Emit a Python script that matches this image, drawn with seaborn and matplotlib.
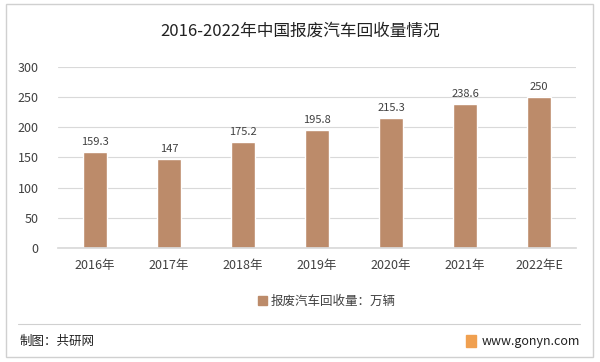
import numpy as np
import pandas as pd
import seaborn as sns
import matplotlib.pyplot as plt
from matplotlib.patches import Rectangle
from matplotlib.lines import Line2D

# data
years = ["2016年", "2017年", "2018年", "2019年", "2020年", "2021年", "2022年E"]
volume = [159.3, 147, 175.2, 195.8, 215.3, 238.6, 250]
value_labels = ["159.3", "147", "175.2", "195.8", "215.3", "238.6", "250"]
y_ticks = [0, 50, 100, 150, 200, 250, 300]

bar_color = "#BC8B6A"
text_color = "#404040"

sns.set_theme(style="white")
plt.rcParams['font.family'] = ['Noto Sans CJK SC', 'DejaVu Sans']

df = pd.DataFrame({"year": years, "volume": volume})

fig = plt.figure(figsize=(6, 3.62), dpi=100)
ax = fig.add_axes([0.097, 0.315, 0.863, 0.5])

sns.barplot(data=df, x="year", y="volume", color=bar_color, width=0.32,
            saturation=1, ax=ax)

for i, (v, lab) in enumerate(zip(volume, value_labels)):
    ax.text(i, v + 8, lab, ha="center", va="bottom", fontsize=8, color=text_color)

ax.set_ylim(0, 300)
ax.set_yticks(y_ticks)
ax.yaxis.grid(True, color="#D9D9D9", linewidth=0.8)
ax.set_axisbelow(True)
for s in ["top", "right", "left"]:
    ax.spines[s].set_visible(False)
ax.spines["bottom"].set_color("#D9D9D9")
ax.tick_params(axis="both", length=0, labelsize=9, colors=text_color)
ax.tick_params(axis="x", pad=8)
ax.tick_params(axis="y", pad=14)
ax.set_xlabel("")
ax.set_ylabel("")

# title
fig.text(0.5, 0.915, "2016-2022年中国报废汽车回收量情况", ha="center", va="center",
         fontsize=12, color="#222222")

# legend
fig.legend(handles=[Rectangle((0, 0), 1, 1, color=bar_color)],
           labels=["报废汽车回收量：万辆"], loc="center", bbox_to_anchor=(0.545, 0.168),
           frameon=False, fontsize=9, handlelength=0.7, handleheight=0.7,
           handletextpad=0.3, labelcolor=text_color)

# outer border and footer
fig.add_artist(Rectangle((0.01, 0.014), 0.978, 0.975, transform=fig.transFigure,
                         fill=False, edgecolor="#D0D0D0", linewidth=1))
fig.add_artist(Line2D([0.03, 0.967], [0.105, 0.105], transform=fig.transFigure,
                      color="#D0D0D0", linewidth=0.8))
fig.text(0.033, 0.058, "制图：共研网", ha="left", va="center", fontsize=9,
         color="#222222")
fig.add_artist(Rectangle((0.776, 0.042), 0.018, 0.032, transform=fig.transFigure,
                         color="#F0A050"))
fig.text(0.802, 0.058, "www.gonyn.com", ha="left", va="center", fontsize=9,
         color="#222222")

fig.savefig("out.png", dpi=100)
